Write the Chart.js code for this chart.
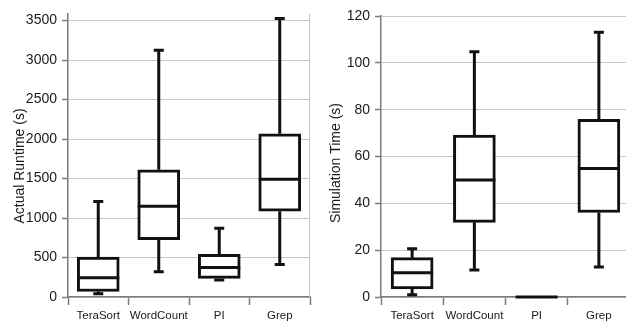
<!DOCTYPE html>
<html>
<head>
<meta charset="utf-8">
<script src="https://cdn.jsdelivr.net/npm/chart.js@4/dist/chart.umd.min.js"></script>
<style>
  html, body { margin: 0; padding: 0; background: #fff; }
  #wrap { display: flex; width: 626px; height: 327px; overflow: hidden; }
  .panel { position: relative; width: 313px; height: 327px; overflow: hidden; flex: none; }
  canvas { display: block; }
</style>
</head>
<body>
<div id="wrap">
  <div class="panel"><canvas id="runtime" width="313" height="327"></canvas></div>
  <div class="panel"><canvas id="simulation" width="320" height="327"></canvas></div>
</div>
<script>
const categories = ['TeraSort', 'WordCount', 'PI', 'Grep'];

// Actual runtime (s): five-number summary per benchmark
const runtimeMin    = [40, 320, 215, 410];
const runtimeQ1     = [70, 725, 235, 1085];
const runtimeMedian = [245, 1150, 375, 1490];
const runtimeQ3     = [505, 1610, 540, 2065];
const runtimeMax    = [1210, 3125, 870, 3525];
const runtimeTicks  = [0, 500, 1000, 1500, 2000, 2500, 3000, 3500];

// Simulation time (s): five-number summary per benchmark
const simMin    = [1.0, 11.5, 0, 12.8];
const simQ1     = [3.4, 31.9, 0, 36.1];
const simMedian = [10.4, 50.0, 0, 54.9];
const simQ3     = [16.8, 69.1, 0, 75.9];
const simMax    = [20.6, 104.7, 0, 113.1];
const simTicks  = [0, 20, 40, 60, 80, 100, 120];

const FONT = "'Liberation Sans', Arial, Helvetica, sans-serif";
const INK = '#111111';
const TEXT = '#1a1a1a';
const GRID = '#c6c6c6';
const AXIS = '#7c7c7c';

// Whiskers, caps, medians and the rotated axis title, drawn on top of the box bars
const boxWhiskers = {
  id: 'boxWhiskers',
  afterDatasetsDraw(chart, args, opts) {
    const ctx = chart.ctx;
    const xs = chart.scales.x, ys = chart.scales.y;
    const area = chart.chartArea;
    const meta = chart.getDatasetMeta(0);
    ctx.save();
    if (opts.rightBorder) {
      ctx.strokeStyle = GRID;
      ctx.lineWidth = 1;
      ctx.beginPath();
      ctx.moveTo(Math.round(area.right) - 0.5, area.top);
      ctx.lineTo(Math.round(area.right) - 0.5, area.bottom);
      ctx.stroke();
    }
    ctx.strokeStyle = INK;
    ctx.lineWidth = 3;
    ctx.lineCap = 'butt';
    opts.median.forEach((m, i) => {
      const cx = xs.getPixelForValue(i);
      const half = meta.data[i].width / 2;
      const yMin = ys.getPixelForValue(opts.min[i]);
      const yQ1 = ys.getPixelForValue(opts.q1[i]);
      const yMed = ys.getPixelForValue(m);
      const yQ3 = ys.getPixelForValue(opts.q3[i]);
      const yMax = ys.getPixelForValue(opts.max[i]);
      const cap = 5;
      ctx.beginPath();
      // upper whisker + cap
      ctx.moveTo(cx, yMax); ctx.lineTo(cx, yQ3);
      ctx.moveTo(cx - cap, yMax); ctx.lineTo(cx + cap, yMax);
      // lower whisker + cap
      ctx.moveTo(cx, yQ1); ctx.lineTo(cx, yMin);
      ctx.moveTo(cx - cap, yMin); ctx.lineTo(cx + cap, yMin);
      // median
      ctx.moveTo(cx - half, yMed); ctx.lineTo(cx + half, yMed);
      ctx.stroke();
    });
    // axis title
    ctx.fillStyle = TEXT;
    ctx.font = '14px ' + FONT;
    ctx.textAlign = 'center';
    ctx.textBaseline = 'middle';
    ctx.translate(opts.titleX, opts.titleY);
    ctx.rotate(-Math.PI / 2);
    ctx.fillText(opts.title, 0, 0);
    ctx.restore();
  }
};

function makeChart(id, q1, med, q3, lo, hi, ticks, yMax, top, title, titleX, titleY, rightBorder) {
  return new Chart(document.getElementById(id), {
    type: 'bar',
    data: {
      labels: categories,
      datasets: [{
        data: q1.map((v, i) => [v, q3[i]]),
        backgroundColor: '#ffffff',
        borderColor: INK,
        borderWidth: 3,
        borderSkipped: false,
        barThickness: 42
      }]
    },
    plugins: [boxWhiskers],
    options: {
      responsive: false,
      animation: false,
      devicePixelRatio: 1,
      layout: { padding: { top: top, right: 3, left: 0, bottom: 0 } },
      plugins: {
        legend: { display: false },
        tooltip: { enabled: false },
        boxWhiskers: {
          q1: q1, median: med, q3: q3, min: lo, max: hi,
          title: title, titleX: titleX, titleY: titleY, rightBorder: rightBorder
        }
      },
      scales: {
        x: {
          offset: true,
          afterFit: s => { s.height = 30; },
          grid: { offset: true, drawOnChartArea: false, tickLength: 8, tickColor: AXIS, tickWidth: 1.5 },
          border: { color: AXIS, width: 1.5 },
          ticks: { padding: 4, color: TEXT, font: { family: FONT, size: 11.5 }, maxRotation: 0, autoSkip: false }
        },
        y: {
          min: 0,
          max: yMax,
          afterBuildTicks: s => { s.ticks = ticks.map(v => ({ value: v })); },
          afterFit: s => { s.width = 68; },
          grid: { color: GRID, lineWidth: 1, tickLength: 6, tickColor: AXIS, tickWidth: 1.5 },
          border: { color: AXIS, width: 1.5 },
          ticks: { padding: 5, color: TEXT, font: { family: FONT, size: 14 }, callback: v => String(v) }
        }
      }
    }
  });
}

makeChart('runtime', runtimeQ1, runtimeMedian, runtimeQ3, runtimeMin, runtimeMax,
  runtimeTicks, 3590, 8, 'Actual Runtime (s)', 20, 166, true);
makeChart('simulation', simQ1, simMedian, simQ3, simMin, simMax,
  simTicks, 120, 16, 'Simulation Time (s)', 23, 163, false);
</script>
</body>
</html>
